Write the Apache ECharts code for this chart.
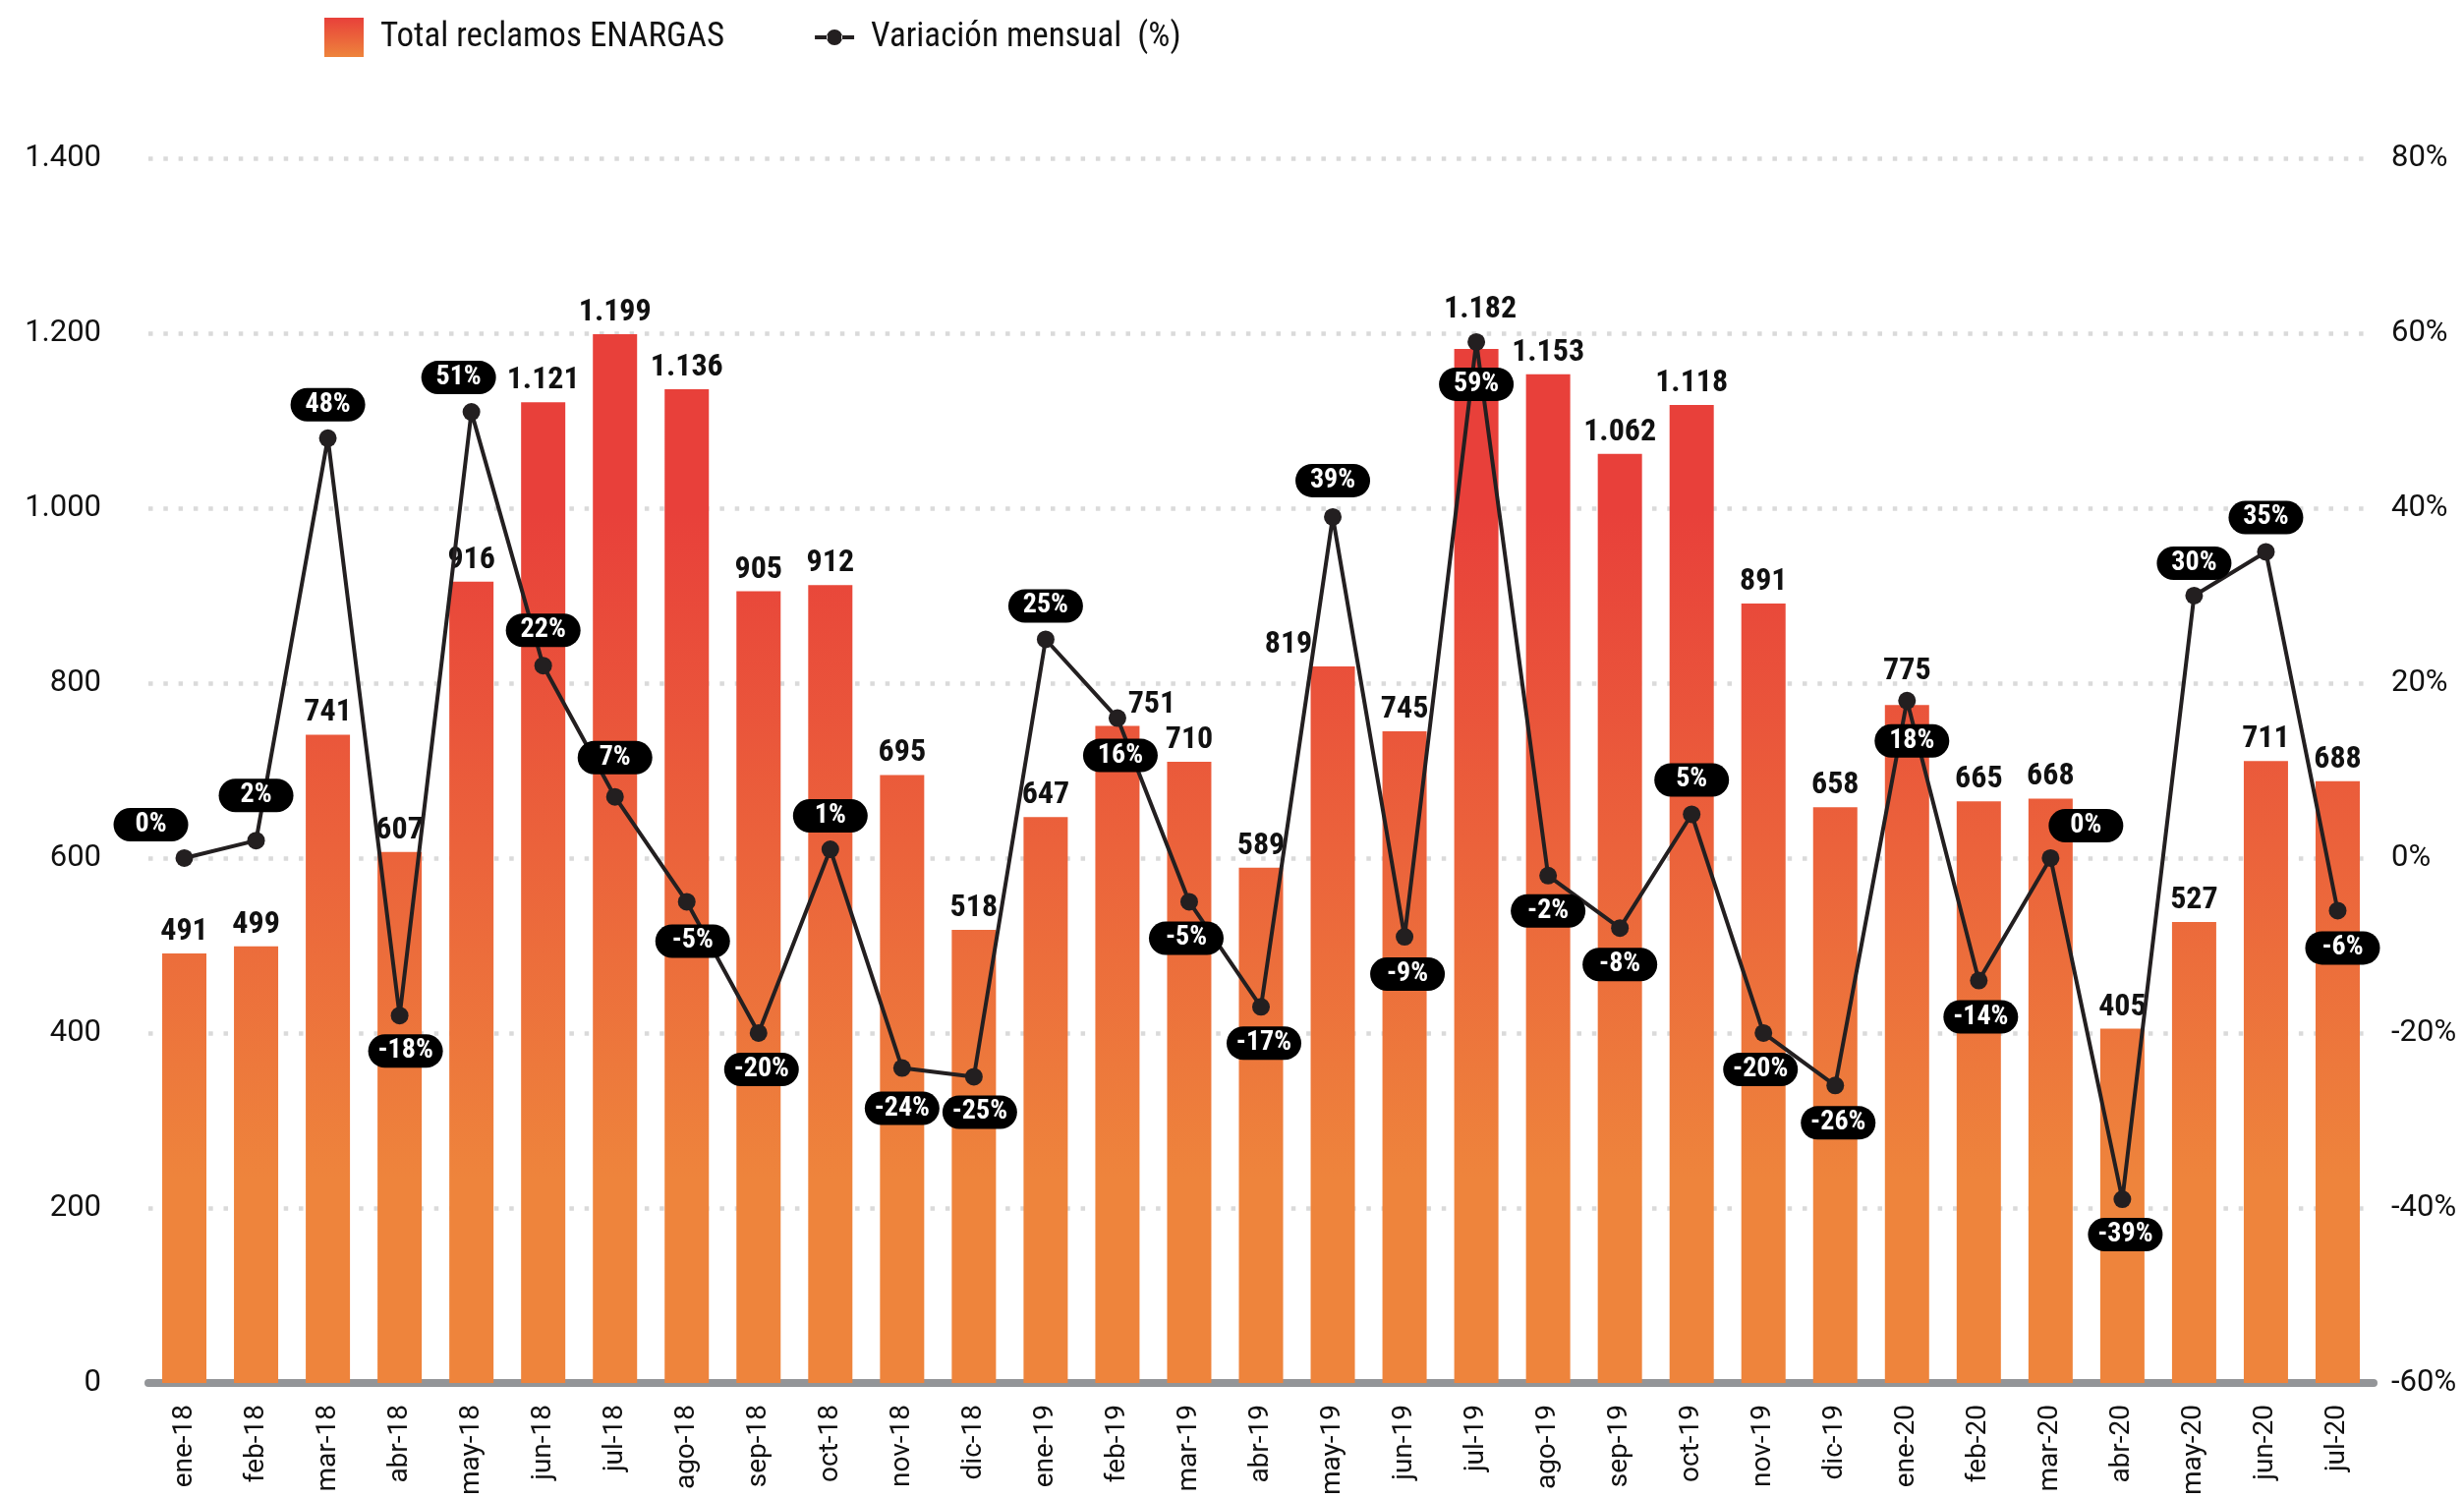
<!DOCTYPE html>
<html>
<head>
<meta charset="utf-8">
<script src="https://cdn.jsdelivr.net/npm/echarts@6/dist/echarts.min.js"></script>
<style>
  html, body { margin: 0; padding: 0; background: #fff; }
  #charts { width: 2507px; height: 1524px; }
</style>
</head>
<body>
<div id="charts"></div>
<script>
var months = [
    "ene-18", "feb-18", "mar-18", "abr-18", "may-18", "jun-18", "jul-18", "ago-18",
    "sep-18", "oct-18", "nov-18", "dic-18", "ene-19", "feb-19", "mar-19", "abr-19",
    "may-19", "jun-19", "jul-19", "ago-19", "sep-19", "oct-19", "nov-19", "dic-19",
    "ene-20", "feb-20", "mar-20", "abr-20", "may-20", "jun-20", "jul-20"
];
var reclamos = [
    491, 499, 741, 607, 916, 1121, 1199, 1136, 905, 912, 695, 518, 647, 751, 710, 589,
    819, 745, 1182, 1153, 1062, 1118, 891, 658, 775, 665, 668, 405, 527, 711, 688
];
var variacion = [
    0, 2, 48, -18, 51, 22, 7, -5, -20, 1, -24, -25, 25, 16, -5, -17,
    39, -9, 59, -2, -8, 5, -20, -26, 18, -14, 0, -39, 30, 35, -6
];
var leftTicks = { min: 0, max: 1400, interval: 200 };
var rightTicks = { min: -60, max: 80, interval: 20 };

// where each % pill sits relative to its point (px)
var pctLabelOffset = [
    [-34, -34], [0, -46], [0, -34], [6, 36], [-13, -35], [0, -36], [0, -40], [6, 40],
    [3, 37], [0, -34], [0, 41], [6, 36], [0, -34], [3, 38], [-3, 37], [3, 37],
    [0, -37], [3, 38], [0, 43], [0, 36], [0, 37], [0, -35], [-3, 37], [3, 38],
    [5, 41], [2, 37], [36, -33], [3, 36], [0, -33], [0, -35], [5, 38]
];
// bar labels pushed aside where the line is in the way
var barLabelShift = { 13: [35, 0], 16: [-45, 0], 18: [4, -18], 24: [0, -12] };

var condensed = "'Roboto Condensed','Liberation Sans Narrow','DejaVu Sans Condensed',sans-serif";

function miles(v) {
    return String(v).replace(/\B(?=(\d{3})+(?!\d))/g, ".");
}

var barData = reclamos.map(function (v, i) {
    var item = { value: v };
    if (barLabelShift[i]) {
        item.label = { offset: barLabelShift[i] };
    }
    return item;
});

var lineData = variacion.map(function (v, i) {
    return { value: v, label: { offset: pctLabelOffset[i] } };
});

const charts = echarts.init(document.getElementById('charts'));

let option = {
    animation: false,
    backgroundColor: "#ffffff",
    grid: {
        top: 161,
        left: 151,
        right: 92,
        bottom: 117,
    },
    legend: {
        left: 325,
        top: 13,
        itemWidth: 40,
        itemHeight: 40,
        itemGap: 92,
        textStyle: {
            fontFamily: condensed,
            fontSize: 35,
            color: "#111",
            padding: [0, 0, 0, 12],
        },
        data: [
            {
                name: "Total reclamos ENARGAS",
                icon: "rect",
                itemStyle: {
                    color: new echarts.graphic.LinearGradient(0, 0, 0, 1, [
                        { offset: 0, color: "#E8403A" },
                        { offset: 1, color: "#EE843C" },
                    ]),
                },
            },
            {
                name: "Variación mensual  (%)",
                icon: "path://M0,18H13V22H0Z M27,18H40V22H27Z M12,20a8,8 0 1,0 16,0a8,8 0 1,0 -16,0Z",
                itemStyle: { color: "#231F20" },
            },
        ],
    },
    xAxis: {
        type: "category",
        data: months,
        axisLine: {
            lineStyle: { color: "#939598", width: 8 },
        },
        axisTick: { show: false },
        axisLabel: {
            rotate: 90,
            margin: 22,
            fontFamily: "Roboto",
            fontSize: 28,
            color: "#111",
            interval: 0,
        },
    },
    yAxis: [
        {
            type: "value",
            min: leftTicks.min,
            max: leftTicks.max,
            interval: leftTicks.interval,
            axisLine: { show: false },
            axisTick: { show: false },
            splitLine: {
                lineStyle: { color: "#DADADA", width: 4.5, type: [4.5, 10.8] },
            },
            axisLabel: {
                margin: 48,
                fontFamily: "Roboto",
                fontSize: 31,
                color: "#111",
                formatter: function (v) { return miles(v); },
            },
        },
        {
            type: "value",
            min: rightTicks.min,
            max: rightTicks.max,
            interval: rightTicks.interval,
            axisLine: { show: false },
            axisTick: { show: false },
            splitLine: { show: false },
            axisLabel: {
                margin: 18,
                fontFamily: "Roboto",
                fontSize: 31,
                color: "#111",
                formatter: "{value}%",
            },
        },
    ],
    series: [
        {
            name: "Total reclamos ENARGAS",
            type: "bar",
            barWidth: 45,
            itemStyle: {
                color: {
                    type: "linear",
                    x: 0, y: 520, x2: 0, y2: 1200,
                    global: true,
                    colorStops: [
                        { offset: 0, color: "#E8403A" },
                        { offset: 1, color: "#EE843C" },
                    ],
                },
            },
            label: {
                show: true,
                position: "top",
                distance: 6,
                fontFamily: condensed,
                fontWeight: "bold",
                fontSize: 32,
                color: "#111",
                formatter: function (p) { return miles(p.value); },
            },
            data: barData,
        },
        {
            name: "Variación mensual  (%)",
            type: "line",
            yAxisIndex: 1,
            symbol: "circle",
            symbolSize: 18,
            itemStyle: { color: "#231F20" },
            lineStyle: { color: "#231F20", width: 4 },
            label: {
                show: true,
                position: "inside",
                fontFamily: condensed,
                fontWeight: "bold",
                fontSize: 28,
                color: "#fff",
                backgroundColor: "#000",
                borderRadius: 17,
                width: 76,
                height: 34,
                lineHeight: 34,
                align: "center",
                verticalAlign: "middle",
                formatter: "{c}%",
            },
            z: 5,
            data: lineData,
        },
    ],
};

charts.setOption(option);
</script>
</body>
</html>
